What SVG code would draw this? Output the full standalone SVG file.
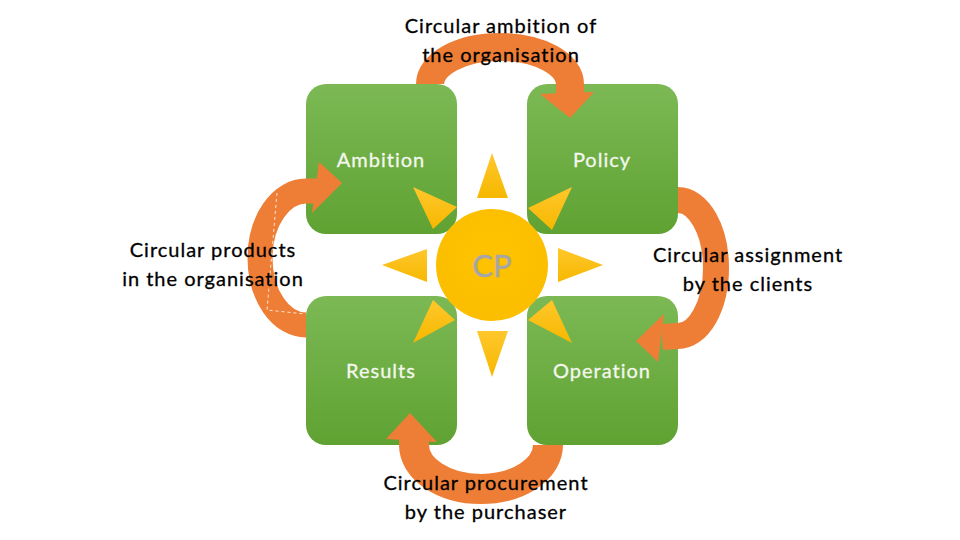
<svg xmlns="http://www.w3.org/2000/svg" width="960" height="540" viewBox="0 0 960 540">
  <defs>
    <linearGradient id="gBox" x1="0" y1="0" x2="0" y2="1">
      <stop offset="0" stop-color="#7CB955"/>
      <stop offset="1" stop-color="#5FA232"/>
    </linearGradient>
    <radialGradient id="gSun" cx="0.5" cy="0.4" r="0.6">
      <stop offset="0" stop-color="#FFC300"/>
      <stop offset="1" stop-color="#FBBE00"/>
    </radialGradient>
    <linearGradient id="gRay" x1="0" y1="0" x2="0" y2="1">
      <stop offset="0" stop-color="#FFC72C"/>
      <stop offset="1" stop-color="#F6B800"/>
    </linearGradient>
    <style>
      .box { fill: url(#gBox); }
      .boxlabel { font-family: Lato, "Open Sans", "Liberation Sans", sans-serif; font-size: 20px; fill: #F4F7EE; stroke: #F4F7EE; stroke-width: 0.3px; text-anchor: middle; letter-spacing: 1px; }
      .label { font-family: Lato, "Open Sans", "Liberation Sans", sans-serif; font-size: 20px; fill: #000000; stroke: #000000; stroke-width: 0.3px; text-anchor: middle; letter-spacing: 1px; }
      .ray { fill: url(#gRay); }
      .shaft { fill: none; stroke: #EE7E36; }
      .head { fill: #EE7E36; }
      .dash { fill: none; stroke: #FFFFFF; stroke-width: 1; stroke-dasharray: 3 3; opacity: 0.8; }
    </style>
  </defs>

  <rect width="960" height="540" fill="#FFFFFF"/>

  <g id="ambition">
    <rect class="box" x="306" y="84" width="151" height="150" rx="20"/>
    <text class="boxlabel" x="381" y="167">Ambition</text>
  </g>
  <g id="policy">
    <rect class="box" x="527" y="84" width="151" height="150" rx="20"/>
    <text class="boxlabel" x="602" y="167">Policy</text>
  </g>
  <g id="results">
    <rect class="box" x="306" y="296" width="151" height="149" rx="20"/>
    <text class="boxlabel" x="381" y="378">Results</text>
  </g>
  <g id="operation">
    <rect class="box" x="527" y="296" width="151" height="149" rx="20"/>
    <text class="boxlabel" x="602" y="378">Operation</text>
  </g>

  <g id="cp">
    <polygon class="ray" points="492,153 508,198 477,198"/>
    <polygon class="ray" points="477,331 508,331 492,377"/>
    <polygon class="ray" points="382,265 427,249 427,282"/>
    <polygon class="ray" points="558,248 603,265 558,282"/>
    <polygon class="ray" points="413,187 457,207 433,229"/>
    <polygon class="ray" points="572,187 528,208 552,230"/>
    <polygon class="ray" points="455,320 433,300 413,343"/>
    <polygon class="ray" points="528,320 552,300 572,343"/>
    <circle cx="492" cy="265" r="56" fill="url(#gSun)"/>
    <text x="492" y="277" font-family="Lato, 'Open Sans', 'Liberation Sans', sans-serif" font-size="31" fill="#A6A6A6" stroke="#A6A6A6" stroke-width="0.5" text-anchor="middle">CP</text>
  </g>

  <g id="connectors">
    <path class="shaft" stroke-width="28" d="M430,84 A70,37 0 0 1 570,84 L570,95"/>
    <polygon class="head" points="540,94 594,92 570,118"/>

    <path class="shaft" stroke-width="25" d="M306,325 A46,67 0 0 1 306,191 L318,191"/>
    <polygon class="head" points="319,162 312,213 342,183"/>
    <path class="dash" d="M277,193 L267,310 L305,314"/>

    <path class="shaft" stroke-width="26" d="M678,200 A38,68 0 0 1 678,336 L662,337"/>
    <polygon class="head" points="664,314 658,362 636,341"/>

    <path class="shaft" stroke-width="30" d="M548,445 A67,44 0 0 1 414,445 L414,438"/>
    <polygon class="head" points="386,439 437,442 410,413"/>
  </g>

  <g id="labels">
    <text class="label" x="501" y="33">Circular ambition of</text>
    <text class="label" x="501" y="62">the organisation</text>
    <text class="label" x="213" y="257">Circular products</text>
    <text class="label" x="213" y="286">in the organisation</text>
    <text class="label" x="748" y="262">Circular assignment</text>
    <text class="label" x="748" y="291">by the clients</text>
    <text class="label" x="486" y="490">Circular procurement</text>
    <text class="label" x="486" y="519">by the purchaser</text>
  </g>
</svg>
